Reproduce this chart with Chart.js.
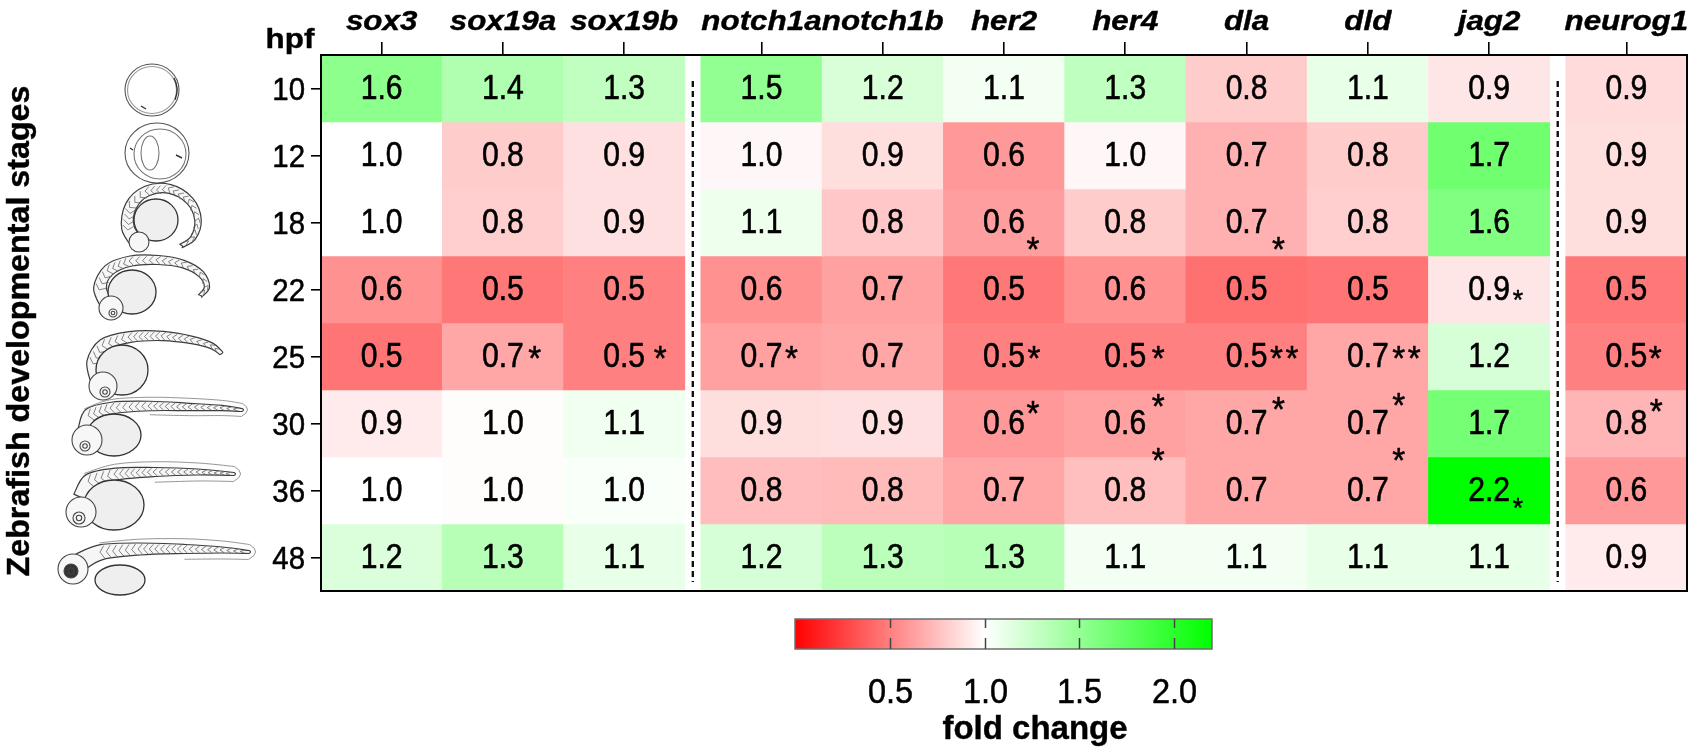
<!DOCTYPE html>
<html>
<head>
<meta charset="utf-8">
<script src="https://cdn.jsdelivr.net/npm/chart.js@4.4.1/dist/chart.umd.min.js"></script>
<style>
html,body{margin:0;padding:0;background:#fff;}
#wrap{width:1694px;height:756px;position:relative;overflow:hidden;}
canvas{display:block;}
</style>
</head>
<body>
<div id="wrap"><canvas id="c" width="1694" height="756"></canvas></div>
<script>
// ---------------- DATA ----------------
const genes = ['sox3','sox19a','sox19b','notch1a','notch1b','her2','her4','dla','dld','jag2','neurog1'];
const stagesHpf = ['10','12','18','22','25','30','36','48'];

// fold change printed in each cell (row = hpf)
const fold10 = [1.6,1.4,1.3,1.5,1.2,1.1,1.3,0.8,1.1,0.9,0.9];
const fold12 = [1.0,0.8,0.9,1.0,0.9,0.6,1.0,0.7,0.8,1.7,0.9];
const fold18 = [1.0,0.8,0.9,1.1,0.8,0.6,0.8,0.7,0.8,1.6,0.9];
const fold22 = [0.6,0.5,0.5,0.6,0.7,0.5,0.6,0.5,0.5,0.9,0.5];
const fold25 = [0.5,0.7,0.5,0.7,0.7,0.5,0.5,0.5,0.7,1.2,0.5];
const fold30 = [0.9,1.0,1.1,0.9,0.9,0.6,0.6,0.7,0.7,1.7,0.8];
const fold36 = [1.0,1.0,1.0,0.8,0.8,0.7,0.8,0.7,0.7,2.2,0.6];
const fold48 = [1.2,1.3,1.1,1.2,1.3,1.3,1.1,1.1,1.1,1.1,0.9];

// unrounded fold change
const tint10 = [1.54,1.37,1.29,1.52,1.18,1.06,1.30,0.80,1.11,0.90,0.86];
const tint12 = [1.00,0.80,0.88,0.97,0.87,0.60,0.97,0.69,0.80,1.68,0.87];
const tint18 = [1.00,0.81,0.88,1.08,0.78,0.62,0.80,0.69,0.81,1.60,0.87];
const tint22 = [0.57,0.47,0.50,0.57,0.63,0.47,0.57,0.44,0.46,0.90,0.47];
const tint25 = [0.46,0.65,0.50,0.63,0.65,0.50,0.50,0.50,0.65,1.19,0.50];
const tint30 = [0.92,0.99,1.07,0.87,0.88,0.60,0.63,0.65,0.65,1.65,0.71];
const tint36 = [1.00,0.99,1.03,0.74,0.73,0.65,0.75,0.65,0.65,2.20,0.60];
const tint48 = [1.17,1.34,1.11,1.19,1.32,1.34,1.06,1.06,1.11,1.11,0.92];

// significance marks [hpf, gene, mark]
const starMarks = [
  ['18','her2','*'], ['18','dla','*'], ['22','jag2','*'],
  ['25','sox19a','*'], ['25','sox19b','*'], ['25','notch1a','*'], ['25','her2','*'],
  ['25','her4','*'], ['25','dla','**'], ['25','dld','**'], ['25','neurog1','*'],
  ['30','her2','*'], ['30','her4','*'], ['30','dla','*'], ['30','dld','*'], ['30','neurog1','*'],
  ['36','her4','*'], ['36','dld','*'], ['36','jag2','*']
];

const colorbarTicks = [0.5, 1.0, 1.5, 2.0];
const colorbarMin = 0, colorbarMax = 2.2;

const foldRows = [fold10,fold12,fold18,fold22,fold25,fold30,fold36,fold48];
const tintRows = [tint10,tint12,tint18,tint22,tint25,tint30,tint36,tint48];

// ---------------- STYLE ----------------
const FONT = "'Liberation Sans', Arial, Helvetica, sans-serif";
const GAP = 16 / 121.3;                       // width of the white separator (in column units)
const gapAfter = [3, 10];                     // separators before these column indices
const colPos = genes.map((g, j) => j + 0.5 + gapAfter.filter(k => j >= k).length * GAP);
const xMax = genes.length + gapAfter.length * GAP;

// star placement: [dx from number's right edge to first star centre, dy of star centre from cell centre, scale]
const starPlacement = {
  '18|her2':[8,21,1], '18|dla':[11,21,1], '22|jag2':[8,5,0.8],
  '25|sox19a':[11,-4,1], '25|sox19b':[15,-4,1], '25|notch1a':[9,-4,1], '25|her2':[9,-4,1],
  '25|her4':[12,-4,1], '25|dla':[9,-4,1], '25|dld':[10,-4,1], '25|neurog1':[8,-4,1],
  '30|her2':[8,-16,1], '30|her4':[12,-23,1], '30|dla':[11,-20,1], '30|dld':[10,-24,1], '30|neurog1':[9,-18,1],
  '36|her4':[12,-36,1], '36|dld':[10,-36,1], '36|jag2':[8,12,0.8]
};

function foldColor(v) {
  if (v <= 1) {
    const c = Math.round(255 * Math.max(0, (v - colorbarMin) / (1 - colorbarMin)));
    return `rgb(255,${c},${c})`;
  }
  const t = Math.min(1, (v - 1) / (colorbarMax - 1));
  const c = Math.round(255 * (1 - t));
  return `rgb(${c},255,${c})`;
}

function drawText(ctx, s, x, y, o) {
  ctx.save();
  ctx.font = `${o.style || 'normal'} ${o.weight || 'normal'} ${o.size}px ${FONT}`;
  ctx.fillStyle = o.color || '#000';
  ctx.textBaseline = 'alphabetic';
  ctx.textAlign = 'left';
  const sx = o.sx || 1;
  const w = ctx.measureText(s).width * sx;
  let x0 = x;
  if (o.align === 'center') x0 = x - w / 2;
  else if (o.align === 'right') x0 = x - w;
  ctx.translate(x0, y);
  ctx.scale(sx, 1);
  ctx.fillText(s, 0, 0);
  if (o.heavy) { ctx.lineWidth = o.heavy; ctx.strokeStyle = o.color || '#000'; ctx.lineJoin = 'round'; ctx.strokeText(s, 0, 0); }
  ctx.restore();
  return { left: x0, right: x0 + w };
}

// ---------- embryo sketches ----------
function smoothPath(ctx, pts, move) {
  if (move !== false) ctx.moveTo(pts[0][0], pts[0][1]); else ctx.lineTo(pts[0][0], pts[0][1]);
  for (let i = 0; i < pts.length - 1; i++) {
    const p0 = pts[Math.max(0, i - 1)], p1 = pts[i], p2 = pts[i + 1], p3 = pts[Math.min(pts.length - 1, i + 2)];
    ctx.bezierCurveTo(p1[0] + (p2[0] - p0[0]) / 6, p1[1] + (p2[1] - p0[1]) / 6,
                      p2[0] - (p3[0] - p1[0]) / 6, p2[1] - (p3[1] - p1[1]) / 6, p2[0], p2[1]);
  }
}
function offsetPts(pts, w, sign) {
  return pts.map((p, i) => {
    const a = pts[Math.max(0, i - 1)], b = pts[Math.min(pts.length - 1, i + 1)];
    const dx = b[0] - a[0], dy = b[1] - a[1], L = Math.hypot(dx, dy) || 1;
    return [p[0] - dy / L * w[i] * sign, p[1] + dx / L * w[i] * sign];
  });
}
function drawFish(ctx, e) {
  ctx.save();
  ctx.lineJoin = 'round'; ctx.lineCap = 'round';
  const n = e.spine.length;
  const w = e.spine.map((p, i) => e.w0 + (e.w1 - e.w0) * i / (n - 1));
  if (e.fin) {
    const fw = e.spine.map((p, i) => w[i] + e.fin * Math.min(1, i / (n - 1) * 1.6));
    const fb = offsetPts(e.spine, fw, -1), fl = offsetPts(e.spine, fw, 1);
    ctx.beginPath(); smoothPath(ctx, fb.slice(1));
    const tip = e.spine[n - 1];
    ctx.quadraticCurveTo(tip[0] + e.fin * 2.2, tip[1], fl[n - 1][0], fl[n - 1][1]);
    smoothPath(ctx, fl.slice(Math.floor(n / 2)).reverse(), false);
    ctx.strokeStyle = '#8a8a8a'; ctx.lineWidth = 0.9; ctx.fillStyle = '#fdfdfd'; ctx.fill(); ctx.stroke();
  }
  const back = offsetPts(e.spine, w, -1), belly = offsetPts(e.spine, w, 1);
  ctx.beginPath(); smoothPath(ctx, back);
  const tip = e.spine[n - 1];
  ctx.quadraticCurveTo(tip[0] + 3, tip[1], belly[n - 1][0], belly[n - 1][1]);
  smoothPath(ctx, belly.slice().reverse(), false);
  ctx.closePath();
  ctx.fillStyle = '#f6f6f6'; ctx.fill();
  ctx.strokeStyle = '#3c3c3c'; ctx.lineWidth = 1.2; ctx.stroke();
  ctx.strokeStyle = '#666'; ctx.lineWidth = 0.8;
  for (let i = 1; i < n - 1; i++) {
    const a = e.spine[i], b = e.spine[i + 1];
    const L = Math.hypot(b[0] - a[0], b[1] - a[1]);
    const steps = Math.max(1, Math.floor(L / 5.5));
    for (let s = 0; s < steps; s++) {
      const t = s / steps;
      const px = a[0] + (b[0] - a[0]) * t, py = a[1] + (b[1] - a[1]) * t;
      const tx = (b[0] - a[0]) / L, ty = (b[1] - a[1]) / L;
      const ww = (w[i] + (w[i + 1] - w[i]) * t) * 0.8;
      ctx.beginPath();
      ctx.moveTo(px + ty * ww + tx * 2, py - tx * ww + ty * 2);
      ctx.lineTo(px - tx * 2, py - ty * 2);
      ctx.lineTo(px - ty * ww + tx * 2, py + tx * ww + ty * 2);
      ctx.stroke();
    }
  }
  ctx.beginPath(); ctx.ellipse(e.yolk[0], e.yolk[1], e.yolk[2], e.yolk[3], 0, 0, 2 * Math.PI);
  ctx.fillStyle = '#efefef'; ctx.fill(); ctx.strokeStyle = '#333'; ctx.lineWidth = 1.3; ctx.stroke();
  ctx.beginPath(); ctx.arc(e.head[0], e.head[1], e.head[2], 0, 2 * Math.PI);
  ctx.fillStyle = '#f7f7f7'; ctx.fill(); ctx.strokeStyle = '#444'; ctx.lineWidth = 1.1; ctx.stroke();
  if (e.eye) {
    ctx.beginPath(); ctx.arc(e.eye[0], e.eye[1], e.eye[2], 0, 2 * Math.PI);
    if (e.eyeDark) { ctx.fillStyle = '#333'; ctx.fill(); }
    ctx.strokeStyle = '#444'; ctx.stroke();
    ctx.beginPath(); ctx.arc(e.eye[0], e.eye[1], e.eye[2] * 0.45, 0, 2 * Math.PI); ctx.stroke();
  }
  ctx.restore();
}
function drawEmbryos(ctx) {
  ctx.save();
  ctx.strokeStyle = '#555'; ctx.lineWidth = 1.1;
  ctx.beginPath(); ctx.ellipse(152, 90, 27, 26, 0, 0, 2 * Math.PI); ctx.stroke();
  ctx.strokeStyle = '#999';
  ctx.beginPath(); ctx.ellipse(152, 90, 24.5, 23.5, 0, 0, 2 * Math.PI); ctx.stroke();
  ctx.strokeStyle = '#333'; ctx.lineWidth = 1.4;
  ctx.beginPath(); ctx.moveTo(141, 106); ctx.lineTo(146, 109); ctx.stroke();
  ctx.beginPath(); ctx.arc(152, 90, 25, -0.5, 0.4); ctx.stroke();
  ctx.strokeStyle = '#555'; ctx.lineWidth = 1.1;
  ctx.beginPath(); ctx.ellipse(157, 153, 32, 30, 0, 0, 2 * Math.PI); ctx.stroke();
  ctx.strokeStyle = '#777';
  ctx.beginPath(); ctx.ellipse(160, 154, 26, 25, 0, 0, 2 * Math.PI); ctx.stroke();
  ctx.beginPath(); ctx.ellipse(150, 153, 9, 17, 0, 0, 2 * Math.PI); ctx.stroke();
  ctx.strokeStyle = '#333'; ctx.lineWidth = 1.4;
  ctx.beginPath(); ctx.moveTo(130, 148); ctx.lineTo(133, 150); ctx.stroke();
  ctx.beginPath(); ctx.moveTo(176, 155); ctx.lineTo(182, 158); ctx.stroke();
  ctx.restore();
  const fish = [
    {spine:[[140,246],[128,228],[131,206],[147,191],[170,189],[190,201],[198,220],[193,238],[181,246]], w0:7, w1:2,
     yolk:[156,220,22,21], head:[139,242,10], eye:null},
    {spine:[[108,306],[100,288],[109,270],[131,261],[158,260],[183,264],[201,274],[207,287],[200,296]], w0:7, w1:2,
     yolk:[132,292,24,22], head:[111,308,12], eye:[113,313,4]},
    {spine:[[99,382],[94,362],[104,345],[130,337],[163,336],[192,340],[212,346],[221,353]], w0:8, w1:2,
     yolk:[122,370,26,25], head:[103,386,14], eye:[105,392,5]},
    {spine:[[86,430],[90,415],[112,408],[150,406],[190,407],[222,408],[242,410]], w0:8, w1:1.5, fin:5,
     yolk:[114,435,27,21], head:[87,440,15], eye:[85,446,5]},
    {spine:[[82,498],[90,481],[116,474],[155,472],[198,472],[234,474]], w0:9, w1:1.5, fin:6,
     yolk:[114,505,30,25], head:[81,512,15], eye:[79,518,6]},
    {spine:[[80,562],[102,552],[140,549],[185,549],[222,550],[249,552]], w0:9, w1:1.5, fin:6,
     yolk:[120,580,25,15], head:[73,569,15], eye:[71,571,7], eyeDark:true}
  ];
  fish.forEach(f => drawFish(ctx, f));
}

// ---------------- CHART ----------------
const datasets = stagesHpf.map((s, i) => ({
  label: s + ' hpf',
  data: genes.map((g, j) => ({ x: colPos[j], y: [i, i + 1] })),
  backgroundColor: tintRows[i].map(foldColor),
  borderWidth: 0,
  grouped: false,
  barPercentage: 1,
  categoryPercentage: 1
}));

const heatmapText = {
  id: 'heatmapText',
  afterDatasetsDraw(chart) {
    const ctx = chart.ctx;
    ctx.save();
    ctx.font = `normal normal 35px ${FONT}`;
    const m = ctx.measureText('*');
    const starMid = (m.actualBoundingBoxDescent - m.actualBoundingBoxAscent) / 2;
    stagesHpf.forEach((s, i) => {
      const meta = chart.getDatasetMeta(i);
      genes.forEach((g, j) => {
        const el = meta.data[j];
        const cy = (el.y + el.base) / 2;
        const r = drawText(ctx, foldRows[i][j].toFixed(1), el.x, cy + 10.7, { size: 35, sx: 0.86, align: 'center', heavy: 0.6 });
        const mark = starMarks.find(k => k[0] === s && k[1] === g);
        if (mark) {
          const pl = starPlacement[s + '|' + g] || [9, -3, 1];
          const sz = 35 * pl[2];
          for (let k = 0; k < mark[2].length; k++) {
            drawText(ctx, '*', r.right + pl[0] + k * 15.5, cy + pl[1] - starMid * pl[2], { size: sz, sx: 0.95, align: 'center', heavy: 0.5 });
          }
        }
      });
    });
    ctx.restore();
  }
};

const decorations = {
  id: 'decorations',
  beforeDraw(chart) {
    const ctx = chart.ctx;
    ctx.save(); ctx.fillStyle = '#fff'; ctx.fillRect(0, 0, chart.width, chart.height); ctx.restore();
  },
  afterDraw(chart) {
    const ctx = chart.ctx, a = chart.chartArea;
    const xs = chart.scales.x, ys = chart.scales.y;
    ctx.save();
    ctx.strokeStyle = '#000'; ctx.lineWidth = 2;
    ctx.strokeRect(a.left, a.top, a.right - a.left, a.bottom - a.top);
    ctx.setLineDash([6, 4]); ctx.lineWidth = 2.4; ctx.strokeStyle = '#111';
    gapAfter.forEach((k, n) => {
      const gx = xs.getPixelForValue(k + n * GAP + GAP / 2);
      ctx.beginPath(); ctx.moveTo(gx, a.top + 26); ctx.lineTo(gx, a.bottom - 9); ctx.stroke();
    });
    ctx.restore();
    genes.forEach((g, j) => {
      drawText(ctx, g, xs.getPixelForValue(colPos[j]), 30, { size: 28, weight: 'bold', style: 'italic', sx: 1.12, align: 'center', heavy: 0.4 });
    });
    stagesHpf.forEach((s, i) => {
      drawText(ctx, s, a.left - 16, ys.getPixelForValue(i + 0.5) + 11.5, { size: 32, sx: 0.92, align: 'right', heavy: 0.5 });
    });
    drawText(ctx, 'hpf', 290, 47.5, { size: 28, weight: 'bold', sx: 1.12, align: 'center', heavy: 0.4 });
    ctx.save();
    ctx.translate(29, 331);
    ctx.rotate(-Math.PI / 2);
    drawText(ctx, 'Zebrafish developmental stages', 0, 0, { size: 31, weight: 'bold', sx: 1.04, align: 'center', heavy: 0.4 });
    ctx.restore();
    const cb = { x0: 795, x1: 1212, y0: 619, y1: 649 };
    const px = v => cb.x0 + (v - colorbarMin) / (colorbarMax - colorbarMin) * (cb.x1 - cb.x0);
    ctx.save();
    const grad = ctx.createLinearGradient(cb.x0, 0, cb.x1, 0);
    grad.addColorStop(0, foldColor(colorbarMin));
    grad.addColorStop((1 - colorbarMin) / (colorbarMax - colorbarMin), foldColor(1));
    grad.addColorStop(1, foldColor(colorbarMax));
    ctx.fillStyle = grad;
    ctx.fillRect(cb.x0, cb.y0, cb.x1 - cb.x0, cb.y1 - cb.y0);
    ctx.strokeStyle = '#6e6e6e'; ctx.lineWidth = 1.5;
    ctx.strokeRect(cb.x0, cb.y0, cb.x1 - cb.x0, cb.y1 - cb.y0);
    ctx.strokeStyle = '#444'; ctx.lineWidth = 1.5;
    colorbarTicks.forEach(v => {
      const x = Math.round(px(v)) + 0.5;
      ctx.beginPath(); ctx.moveTo(x, cb.y0); ctx.lineTo(x, cb.y0 + 9); ctx.stroke();
      ctx.beginPath(); ctx.moveTo(x, cb.y1); ctx.lineTo(x, cb.y1 - 11); ctx.stroke();
      drawText(ctx, v.toFixed(1), x, 703, { size: 35, sx: 0.93, align: 'center', heavy: 0.5 });
    });
    ctx.restore();
    drawText(ctx, 'fold change', 1035, 739, { size: 33, weight: 'bold', align: 'center', heavy: 0.4 });
    drawEmbryos(ctx);
  }
};

new Chart(document.getElementById('c'), {
  type: 'bar',
  data: { datasets },
  options: {
    responsive: false,
    devicePixelRatio: 1,
    animation: false,
    layout: { padding: { left: 261, top: 0, right: 7, bottom: 165 } },
    plugins: { legend: { display: false }, tooltip: { enabled: false } },
    scales: {
      x: {
        type: 'linear', position: 'top', min: 0, max: xMax, offset: false,
        afterBuildTicks: s => { s.ticks = colPos.map(v => ({ value: v })); },
        afterFit: s => { s.height = 55; },
        ticks: { display: false, autoSkip: false },
        grid: { offset: false, drawOnChartArea: false, drawTicks: true, tickLength: 13, color: '#000', lineWidth: 1.6 },
        border: { display: true, color: '#000', width: 2 }
      },
      y: {
        type: 'linear', reverse: true, min: 0, max: stagesHpf.length, beginAtZero: true,
        afterBuildTicks: s => { s.ticks = stagesHpf.map((v, i) => ({ value: i + 0.5 })); },
        afterFit: s => { s.width = 60; },
        ticks: { display: false, autoSkip: false },
        grid: { drawOnChartArea: false, drawTicks: true, tickLength: 10, color: '#000', lineWidth: 1.6 },
        border: { display: true, color: '#000', width: 2 }
      }
    }
  },
  plugins: [decorations, heatmapText]
});
</script>
</body>
</html>
